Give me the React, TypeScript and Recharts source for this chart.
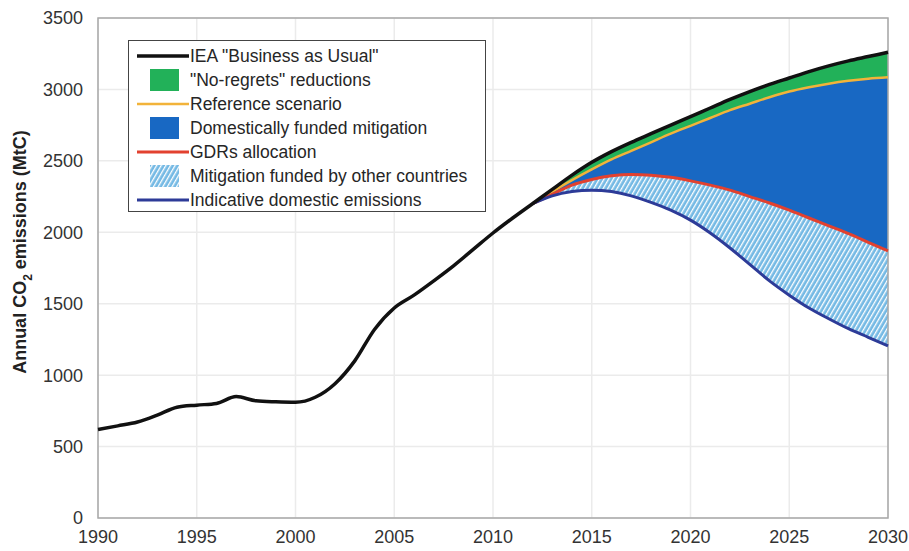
import React from 'react';
import {
  ComposedChart,
  Area,
  Line,
  XAxis,
  YAxis,
  CartesianGrid,
  ReferenceArea,
} from 'recharts';

const FONT = '"Liberation Sans", Arial, Helvetica, sans-serif';

// years on the x axis
const YEARS = [
  1990, 1991, 1992, 1993, 1994, 1995, 1996, 1997, 1998, 1999,
  2000, 2001, 2002, 2003, 2004, 2005, 2006, 2007, 2008, 2009,
  2010, 2011, 2012, 2013, 2014, 2015, 2016, 2017, 2018, 2019,
  2020, 2021, 2022, 2023, 2024, 2025, 2026, 2027, 2028, 2029, 2030,
];

// IEA "Business as Usual" (MtC), 1990-2030
const BAU = [
  620, 645, 672, 720, 775, 790, 802, 850, 820, 813,
  810, 845, 940, 1100, 1320, 1470, 1560, 1660, 1765, 1880,
  1995, 2100, 2200, 2300, 2400, 2490, 2565, 2630, 2690, 2750,
  2810, 2870, 2930, 2985, 3035, 3080, 3125, 3165, 3200, 3230, 3260,
];

// scenario curves start in 2012
const SCENARIO_START = 2012;
const REFERENCE = [
  2200, 2285, 2365, 2440, 2510, 2570, 2630, 2690, 2745, 2800,
  2855, 2900, 2945, 2985, 3015, 3040, 3060, 3075, 3085,
];
const GDRS = [
  2200, 2265, 2330, 2370, 2395, 2405, 2400, 2385, 2360, 2330,
  2295, 2250, 2205, 2155, 2100, 2045, 1990, 1930, 1870,
];
const DOMESTIC = [
  2200, 2255, 2285, 2295, 2285, 2255, 2210, 2155, 2085, 1995,
  1890, 1775, 1660, 1560, 1470, 1395, 1325, 1265, 1205,
];

const X_TICKS = [1990, 1995, 2000, 2005, 2010, 2015, 2020, 2025, 2030];
const Y_TICKS = [0, 500, 1000, 1500, 2000, 2500, 3000, 3500];

const COLORS = {
  bau: '#111111',
  green: '#22b159',
  reference: '#f2b33a',
  blue: '#1868c3',
  gdrs: '#e2412f',
  hatch: '#74b9e4',
  domestic: '#2d3b98',
};

const data = YEARS.map((year, i) => {
  const j = year - SCENARIO_START;
  const has = j >= 0;
  return {
    year,
    bau: BAU[i],
    reference: has ? REFERENCE[j] : null,
    gdrs: has ? GDRS[j] : null,
    domestic: has ? DOMESTIC[j] : null,
    noRegrets: has ? [REFERENCE[j], BAU[i]] : null,
    funded: has ? [GDRS[j], REFERENCE[j]] : null,
    other: has ? [DOMESTIC[j], GDRS[j]] : null,
  };
});

const LEGEND_ITEMS = [
  { kind: 'line', color: COLORS.bau, width: 3.5, label: 'IEA "Business as Usual"' },
  { kind: 'box', color: COLORS.green, label: '"No-regrets" reductions' },
  { kind: 'line', color: COLORS.reference, width: 2.5, label: 'Reference scenario' },
  { kind: 'box', color: COLORS.blue, label: 'Domestically funded mitigation' },
  { kind: 'line', color: COLORS.gdrs, width: 3, label: 'GDRs allocation' },
  { kind: 'hatch', color: COLORS.hatch, label: 'Mitigation funded by other countries' },
  { kind: 'line', color: COLORS.domestic, width: 3, label: 'Indicative domestic emissions' },
];

function ChartLegend() {
  return (
    <div
      style={{
        position: 'absolute',
        left: 128,
        top: 40,
        width: 358,
        height: 172,
        border: '1.5px solid #444',
        background: '#fff',
        padding: '3px 0 0 0',
        boxSizing: 'border-box',
        fontFamily: FONT,
        fontSize: 17.5,
        color: '#262626',
      }}
    >
      {LEGEND_ITEMS.map((item) => (
        <div key={item.label} style={{ height: 24, display: 'flex', alignItems: 'center' }}>
          <svg width={61} height={24} style={{ flex: 'none' }}>
            <defs>
              <pattern id="legend-hatch" patternUnits="userSpaceOnUse" width={4} height={4} patternTransform="rotate(30)">
                <rect width={4} height={4} fill={COLORS.hatch} />
                <rect width={1.3} height={4} fill="#ffffff" />
              </pattern>
            </defs>
            {item.kind === 'line' && (
              <line x1={8} x2={60} y1={12} y2={12} stroke={item.color} strokeWidth={item.width} />
            )}
            {item.kind === 'box' && <rect x={21} y={1} width={29} height={22} fill={item.color} />}
            {item.kind === 'hatch' && <rect x={21} y={1} width={29} height={22} fill="url(#legend-hatch)" />}
          </svg>
          <span style={{ whiteSpace: 'nowrap' }}>{item.label}</span>
        </div>
      ))}
    </div>
  );
}

function YTitle() {
  return (
    <text
      transform="translate(26,252) rotate(-90)"
      textAnchor="middle"
      fontFamily={FONT}
      fontWeight="bold"
      fontSize={18}
      fill="#222"
    >
      Annual CO
      <tspan dy={6} fontSize={12}>2</tspan>
      <tspan dy={-6}> emissions (MtC)</tspan>
    </text>
  );
}

export default function App() {
  const tick = { fontFamily: FONT, fontSize: 18, fill: '#333' };
  return (
    <div style={{ position: 'absolute', left: 0, top: 0, width: 909, height: 551 }}>
      <ComposedChart
        width={909}
        height={551}
        data={data}
        margin={{ top: 18, right: 21, left: 0, bottom: 0 }}
      >
        <defs>
          <pattern id="hatch" patternUnits="userSpaceOnUse" width={4} height={4} patternTransform="rotate(30)">
            <rect width={4} height={4} fill={COLORS.hatch} />
            <rect width={1.3} height={4} fill="#ffffff" />
          </pattern>
        </defs>
        <CartesianGrid stroke="#ebebeb" strokeWidth={1.5} />
        <XAxis
          dataKey="year"
          type="number"
          domain={[1990, 2030]}
          ticks={X_TICKS}
          height={33}
          axisLine={false}
          tickLine={false}
          tickMargin={6}
          tick={tick}
          interval={0}
        />
        <YAxis
          type="number"
          domain={[0, 3500]}
          ticks={Y_TICKS}
          width={98}
          axisLine={false}
          tickLine={false}
          tickMargin={9}
          tick={tick}
          interval={0}
          label={() => <YTitle />}
        />
        <Area
          dataKey="noRegrets"
          type="monotone"
          stroke="none"
          fill={COLORS.green}
          fillOpacity={1}
          isAnimationActive={false}
          activeDot={false}
        />
        <Area
          dataKey="funded"
          type="monotone"
          stroke="none"
          fill={COLORS.blue}
          fillOpacity={1}
          isAnimationActive={false}
          activeDot={false}
        />
        <Area
          dataKey="other"
          type="monotone"
          stroke="none"
          fill="url(#hatch)"
          fillOpacity={1}
          isAnimationActive={false}
          activeDot={false}
        />
        <Line dataKey="reference" type="monotone" stroke={COLORS.reference} strokeWidth={2.5} dot={false} isAnimationActive={false} />
        <Line dataKey="gdrs" type="monotone" stroke={COLORS.gdrs} strokeWidth={3} dot={false} isAnimationActive={false} />
        <Line dataKey="domestic" type="monotone" stroke={COLORS.domestic} strokeWidth={3} dot={false} isAnimationActive={false} />
        <Line dataKey="bau" type="monotone" stroke={COLORS.bau} strokeWidth={3.5} dot={false} isAnimationActive={false} />
        <ReferenceArea x1={1990} x2={2030} y1={0} y2={3500} fill="none" stroke="#a8a8a8" strokeWidth={1.5} />
      </ComposedChart>
      <ChartLegend />
    </div>
  );
}
